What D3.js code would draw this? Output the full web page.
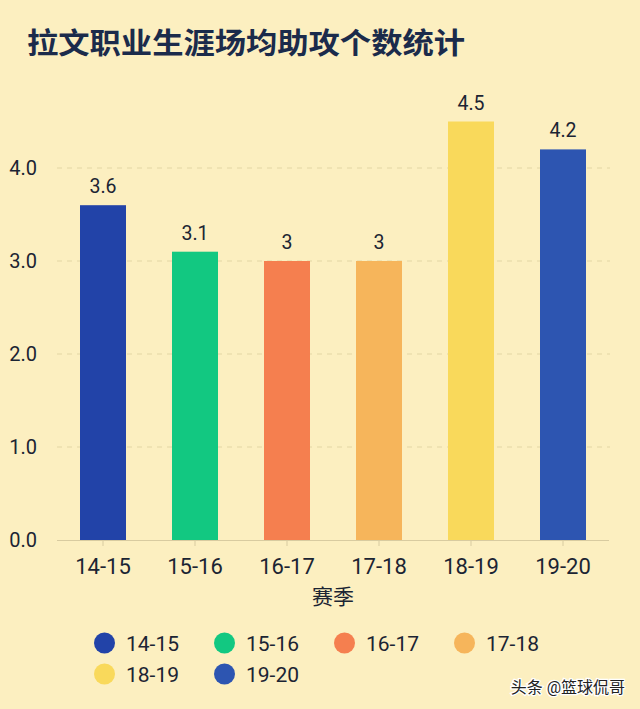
<!DOCTYPE html>
<html><head><meta charset="utf-8">
<script src="https://cdn.jsdelivr.net/npm/d3@7"></script>
<style>
html,body{margin:0;padding:0;background:#fcefc0;}
svg{display:block;}
text{font-family:Roboto,"Noto Sans CJK SC",sans-serif;}
</style></head>
<body>
<script>
const seasons = ["14-15","15-16","16-17","17-18","18-19","19-20"];
const assists = [3.6,3.1,3,3,4.5,4.2];
const barColors = ["#2243a8","#12c881","#f57f4f","#f6b55b","#f9d95b","#2d55b1"];
const yTicks = [0,1,2,3,4];
const title = "拉文职业生涯场均助攻个数统计";
const xTitle = "赛季";
const watermark = "头条 @篮球侃哥";

const W=640,H=709;
const svg=d3.select("body").append("svg").attr("width",W).attr("height",H);
svg.append("rect").attr("width",W).attr("height",H).attr("fill","#fcefc0");

svg.append("text").attr("x",27).attr("y",54).text(title)
  .attr("font-family","'Noto Sans CJK SC',sans-serif").attr("font-weight","bold")
  .attr("font-size",29).attr("textLength",438).attr("lengthAdjust","spacingAndGlyphs")
  .attr("fill","#1b2b4b");

const x=d3.scaleBand().domain(seasons).range([57,609]).paddingInner(0.5).paddingOuter(0.25);
const y=d3.scaleLinear().domain([0,4]).range([540,168]);

// gridlines
svg.append("g").selectAll("line").data(yTicks.filter(d=>d>0)).join("line")
  .attr("x1",57).attr("x2",610).attr("y1",d=>y(d)).attr("y2",d=>y(d))
  .attr("stroke","#e3d6a4").attr("stroke-width",1).attr("stroke-dasharray","5,5");

// y axis labels
const yAxis=d3.axisLeft(y).tickValues(yTicks).tickFormat(d3.format(".1f")).tickSize(0).tickPadding(0);
const ya=svg.append("g").attr("transform","translate(37,0)").call(yAxis);
ya.select(".domain").remove();
ya.selectAll("text").attr("font-size",20).attr("fill","#1b2433").attr("font-family","Roboto,sans-serif");

// bars
svg.append("g").selectAll("rect").data(seasons).join("rect")
  .attr("x",d=>x(d)).attr("width",x.bandwidth())
  .attr("y",(d,i)=>y(assists[i])).attr("height",(d,i)=>y(0)-y(assists[i]))
  .attr("fill",(d,i)=>barColors[i]);

// value labels
svg.append("g").selectAll("text").data(seasons).join("text")
  .attr("x",d=>x(d)+x.bandwidth()/2).attr("y",(d,i)=>y(assists[i])-12)
  .attr("text-anchor","middle").attr("font-size",19.5).attr("fill","#1b2433")
  .text((d,i)=>String(assists[i]));

// x axis
const xAxis=d3.axisBottom(x).tickSize(6).tickPadding(12);
const xa=svg.append("g").attr("transform","translate(0,540)").call(xAxis);
xa.select(".domain").attr("d","M57,0.5H609").attr("stroke","#d8cba0");
xa.selectAll(".tick line").attr("stroke","#d8cba0");
xa.selectAll("text").attr("font-size",22).attr("fill","#1b2433").attr("font-family","Roboto,sans-serif");

svg.append("text").attr("x",333).attr("y",604).attr("text-anchor","middle")
  .attr("font-family","'Noto Sans CJK SC',sans-serif").attr("font-size",21).attr("fill","#1b2433").text(xTitle);

// legend
const lg=svg.append("g");
seasons.forEach((s,i)=>{
  const col=i%4,row=Math.floor(i/4);
  const cx=104.5+col*120, cy=643+row*31;
  lg.append("ellipse").attr("cx",cx).attr("cy",cy).attr("rx",10.5).attr("ry",10.5).attr("fill",barColors[i]);
  lg.append("text").attr("x",cx+21.5).attr("y",cy+7.5).attr("font-size",21).attr("fill","#1b2433").text(s);
});

svg.append("text").attr("x",625).attr("y",693).attr("text-anchor","end")
  .attr("font-family","'Noto Sans CJK SC',sans-serif").attr("font-size",16).attr("fill","#222")
  .attr("stroke","#fff").attr("stroke-width",2.5).attr("paint-order","stroke").text(watermark);
</script>
</body></html>
